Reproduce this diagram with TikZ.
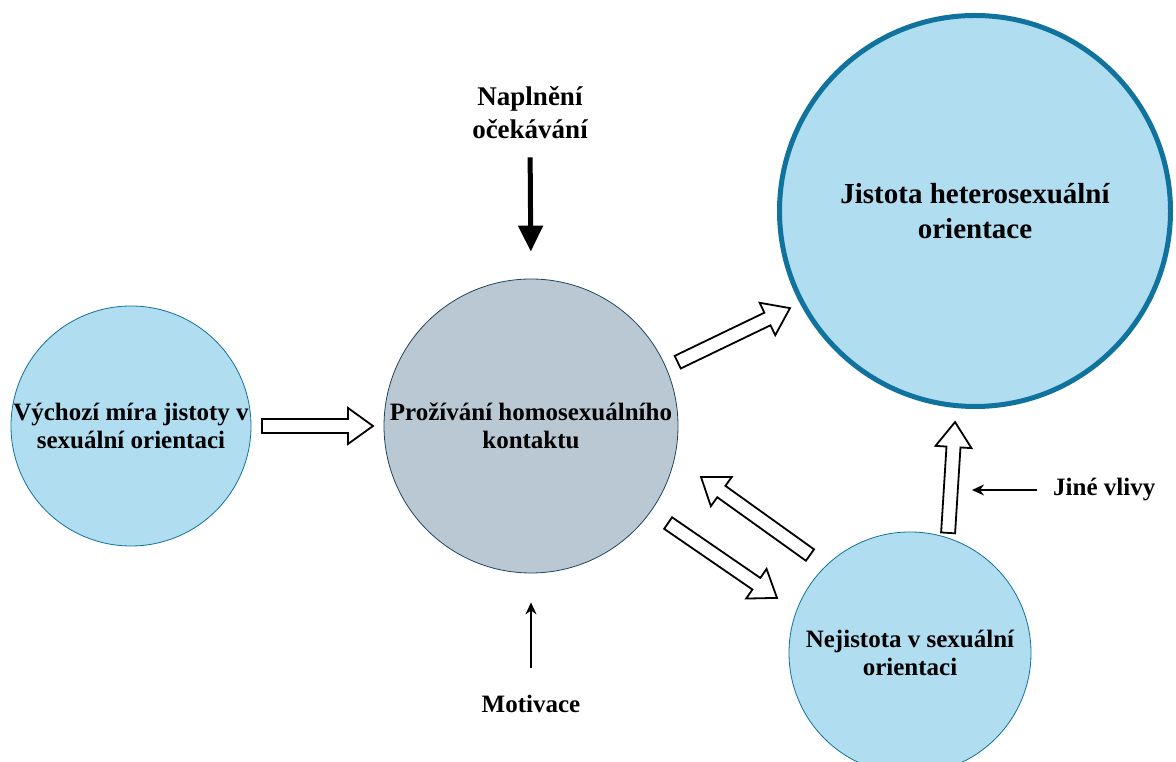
\documentclass[tikz,border=0pt]{standalone}
\usepackage{fontspec}
\setmainfont{Liberation Serif}
\usetikzlibrary{calc,arrows.meta}
\definecolor{bluefill}{HTML}{B1DDF0}
\definecolor{bluedraw}{HTML}{10739E}
\definecolor{greyfill}{HTML}{BAC8D3}
\definecolor{greydraw}{HTML}{23445D}
\tikzset{
  bubble/.style={circle, inner sep=0pt, align=center, font=\bfseries\fontsize{25}{28}\selectfont},
  label text/.style={inner sep=0pt, align=center, font=\bfseries\fontsize{25}{28}\selectfont},
  hollow/.style={draw=black, fill=white, line width=1.8pt, line join=miter},
  thin arrow/.style={-{Stealth[length=12pt,width=11pt]}, line width=1.4pt},
}
% hollow block arrow from #1 to #2
\newcommand{\blockarrow}[2]{%
  \coordinate (ba-h) at ($(#2)!25pt!(#1)$);
  \draw[hollow] ($(#1)!7pt!90:(#2)$) -- ($(ba-h)!7pt!90:(#2)$) -- ($(ba-h)!18pt!90:(#2)$) -- (#2)
    -- ($(ba-h)!18pt!-90:(#2)$) -- ($(ba-h)!7pt!-90:(#2)$) -- ($(#1)!7pt!-90:(#2)$) -- cycle;
}

\begin{document}
\begin{tikzpicture}[x=1pt, y=1pt]
  \useasboundingbox (0,0) rectangle (1176,762);

  \node[bubble, minimum size=240pt, fill=bluefill, draw=bluedraw, line width=0.8pt] (lft) at (131,336)
    {Výchozí míra jistoty v\\sexuální orientaci};
  \node[bubble, minimum size=294pt, fill=greyfill, draw=greydraw, line width=0.8pt] (mid) at (531,336)
    {Prožívání homosexuálního\\kontaktu};
  \node[bubble, minimum size=391pt, fill=bluefill, draw=bluedraw, line width=5pt,
        font=\bfseries\fontsize{29}{35}\selectfont] (top) at (975,551)
    {Jistota heterosexuální\\orientace};
  \node[bubble, minimum size=242pt, fill=bluefill, draw=bluedraw, line width=0.8pt] (bot) at (910,109)
    {Nejistota v sexuální\\orientaci};

  \node[label text, font=\bfseries\fontsize{27}{33}\selectfont] (nap) at (530,649) {Naplnění\\očekávání};
  \node[label text] (mot) at (531,58) {Motivace};
  \node[label text, anchor=west] (jine) at (1053,272) {Jiné vlivy};

  % ends of the block arrows
  \coordinate (a1) at ($(lft)+(0:131)$);
  \coordinate (b1) at ($(mid)+(180:158)$);
  \coordinate (a2) at ($(mid)+(23.5:160)$);
  \coordinate (b2) at ($(top)+(207.7:209)$);
  \coordinate (a3) at ($(bot)+(135.6:140)$);
  \coordinate (b3) at ($(mid)+(-16.7:177.5)$);
  \coordinate (a4) at ($(mid)+(-35.3:168)$);
  \coordinate (b4) at ($(bot)+(157.5:144)$);
  \coordinate (a5) at ($(bot)+(72.4:126)$);
  \coordinate (b5) at ($(top)+(264.6:212)$);
  \blockarrow{a1}{b1}
  \blockarrow{a2}{b2}
  \blockarrow{a3}{b3}
  \blockarrow{a4}{b4}
  \blockarrow{a5}{b5}

  \draw[-{Triangle[length=26pt,width=24pt]}, line width=5pt, shorten <=18pt, shorten >=27pt] (nap.south) -- (mid.north);
  \draw[thin arrow, shorten <=27pt, shorten >=29pt] (mot.north) -- (mid.south);
  \coordinate (jv) at ($(jine.west)+(-81,0)$);
  \draw[thin arrow, shorten <=16pt] (jine.west) -- (jv);
\end{tikzpicture}
\end{document}
